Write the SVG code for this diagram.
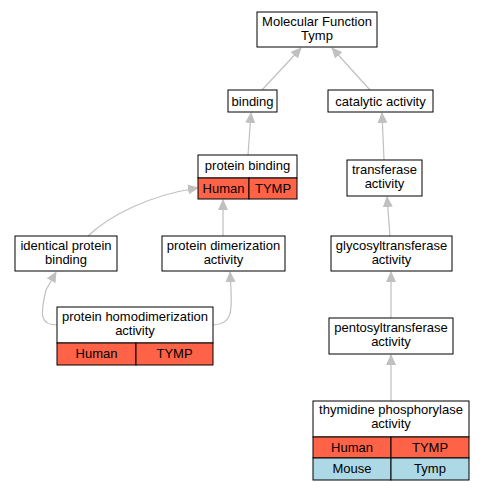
<svg xmlns="http://www.w3.org/2000/svg" width="484" height="491" viewBox="0 0 484 491">
<defs>
<style>
text{font-family:"Liberation Sans",Arial,sans-serif;font-size:13px;text-anchor:middle;fill:#000}
.n{fill:#fff;stroke:#000;stroke-width:1}
.h{fill:#ff6347;stroke:#000;stroke-width:1}
.m{fill:#add8e6;stroke:#000;stroke-width:1}
.e{fill:none;stroke:#c0c0c0;stroke-width:1.2}
</style>
<marker id="a" markerWidth="11" markerHeight="10" refX="10" refY="5" orient="auto" markerUnits="userSpaceOnUse" viewBox="0 0 11 10">
<path d="M0,0 L11,5 L0,10 z" fill="#c0c0c0"/>
</marker>
</defs>
<rect width="484" height="491" fill="#fff"/>
<g id="edges">
<path class="e" d="M262,90 L301,48" marker-end="url(#a)"/>
<path class="e" d="M370,90 L332,48" marker-end="url(#a)"/>
<path class="e" d="M248,155 L251,113" marker-end="url(#a)"/>
<path class="e" d="M384,160 L382,113" marker-end="url(#a)"/>
<path class="e" d="M88,236 C110,215 150,195 198,188" marker-end="url(#a)"/>
<path class="e" d="M223,236 L223,200" marker-end="url(#a)"/>
<path class="e" d="M390,236 L387,197" marker-end="url(#a)"/>
<path class="e" d="M391,318 L391,272" marker-end="url(#a)"/>
<path class="e" d="M57,325 C40,325 40,315 46,290 L56,272" marker-end="url(#a)"/>
<path class="e" d="M213,325 C232,324 232,312 231,290 L230,272" marker-end="url(#a)"/>
<path class="e" d="M391,401 L391,355" marker-end="url(#a)"/>
</g>
<g id="mf">
<rect class="n" x="257" y="12" width="120" height="35"/>
<text x="317" y="25.5">Molecular Function</text>
<text x="317" y="39.5">Tymp</text>
</g>
<g id="binding">
<rect class="n" x="228" y="90" width="49" height="22"/>
<text x="252.5" y="105.5">binding</text>
</g>
<g id="catalytic">
<rect class="n" x="328" y="90" width="105" height="22"/>
<text x="380.5" y="105.5">catalytic activity</text>
</g>
<g id="proteinbinding">
<rect class="n" x="198" y="155" width="99" height="23"/>
<text x="247.5" y="170">protein binding</text>
<rect class="h" x="198" y="178" width="51" height="21"/>
<rect class="h" x="249" y="178" width="48" height="21"/>
<text x="223.5" y="192.5">Human</text>
<text x="273" y="192.5">TYMP</text>
</g>
<g id="transferase">
<rect class="n" x="347" y="160" width="75" height="36"/>
<text x="384.5" y="173.5">transferase</text>
<text x="384.5" y="187.5">activity</text>
</g>
<g id="identical">
<rect class="n" x="15" y="236" width="102" height="35"/>
<text x="66" y="249.5">identical protein</text>
<text x="66" y="263.5">binding</text>
</g>
<g id="dimerization">
<rect class="n" x="162" y="236" width="123" height="35"/>
<text x="223.5" y="249.5">protein dimerization</text>
<text x="223.5" y="263.5">activity</text>
</g>
<g id="glyco">
<rect class="n" x="331" y="236" width="121" height="35"/>
<text x="391.5" y="249.5">glycosyltransferase</text>
<text x="391.5" y="263.5">activity</text>
</g>
<g id="homodim">
<rect class="n" x="57" y="307" width="156" height="36"/>
<text x="135" y="320.5">protein homodimerization</text>
<text x="135" y="334.5">activity</text>
<rect class="h" x="57" y="343" width="79" height="22"/>
<rect class="h" x="136" y="343" width="77" height="22"/>
<text x="96.5" y="358">Human</text>
<text x="174.5" y="358">TYMP</text>
</g>
<g id="pentosyl">
<rect class="n" x="329" y="318" width="124" height="36"/>
<text x="391" y="331.5">pentosyltransferase</text>
<text x="391" y="345.5">activity</text>
</g>
<g id="thymidine">
<rect class="n" x="313" y="401" width="156" height="36"/>
<text x="391" y="414">thymidine phosphorylase</text>
<text x="391" y="428">activity</text>
<rect class="h" x="313" y="437" width="78" height="21"/>
<rect class="h" x="391" y="437" width="78" height="21"/>
<text x="352" y="451.5">Human</text>
<text x="430" y="451.5">TYMP</text>
<rect class="m" x="313" y="458" width="78" height="22"/>
<rect class="m" x="391" y="458" width="78" height="22"/>
<text x="352" y="472.5">Mouse</text>
<text x="430" y="472.5">Tymp</text>
</g>
</svg>
